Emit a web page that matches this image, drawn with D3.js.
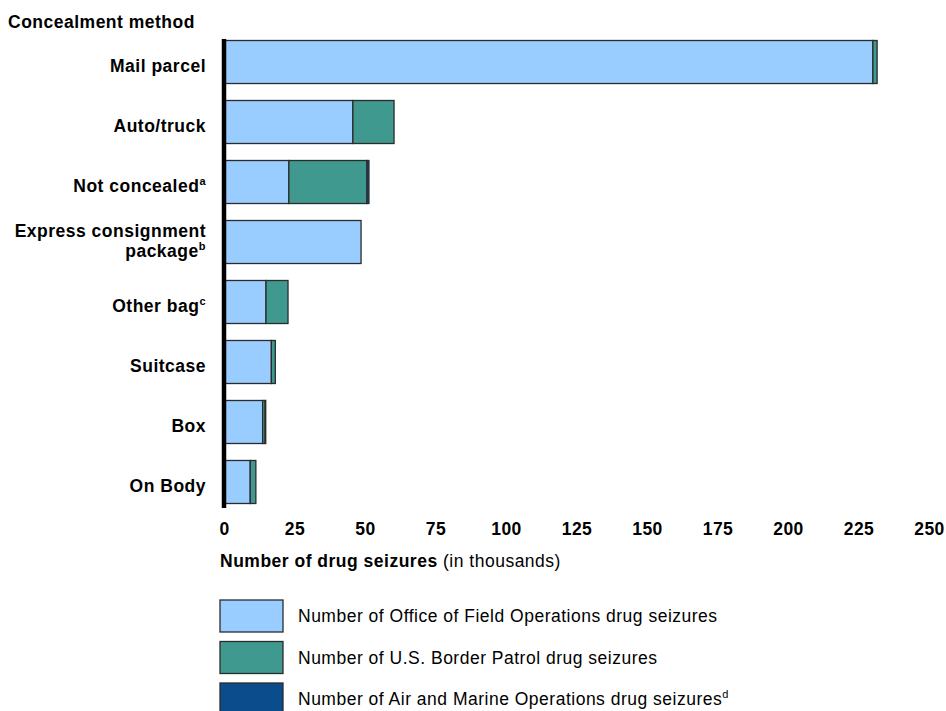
<!DOCTYPE html>
<html lang="en">
<head>
    <meta charset="UTF-8">
    <title>Drug seizures by concealment method</title>
    <script src="https://d3js.org/d3.v7.min.js"></script>
    <style>
        body {
            margin: 0;
            background: #fff;
            font-family: "Liberation Sans", Arial, sans-serif;
        }
        svg text { fill: #000; font-size: 17.5px; letter-spacing: 0.5px; }
        .cat { font-weight: bold; }
        .tick-label { font-weight: bold; }
    </style>
</head>
<body>
    <div id="chart"></div>
    <script>
        // data (thousands of seizures)
        const categories = ["Mail parcel", "Auto/truck", "Not concealed", "Express consignment package", "Other bag", "Suitcase", "Box", "On Body"];
        const ofo  = [230.1, 45.7, 23.0, 48.6, 14.9, 16.8, 13.7, 9.3];
        const usbp = [1.5, 14.6, 27.7, 0.0, 7.8, 1.4, 0.9, 2.0];
        const amo  = [0.0, 0.0, 0.7, 0.0, 0.0, 0.0, 0.2, 0.0];
        const xTicks = [0, 25, 50, 75, 100, 125, 150, 175, 200, 225, 250];
        const seriesNames = [
            "Number of Office of Field Operations drug seizures",
            "Number of U.S. Border Patrol drug seizures",
            "Number of Air and Marine Operations drug seizures"
        ];
        const seriesSup = ["", "", "d"];
        const colors = ["#99ccff", "#3f998f", "#0b4c8c"];

        const W = 946, H = 711;
        const svg = d3.select("#chart").append("svg")
            .attr("width", W)
            .attr("height", H);

        const x = d3.scaleLinear().domain([0, 250]).range([224, 929]);
        const y = d3.scaleBand().domain(categories).range([40.5, 503.5]).paddingInner(0.283).paddingOuter(0);

        const table = categories.map((c, i) => ({cat: c, ofo: ofo[i], usbp: usbp[i], amo: amo[i]}));
        const stack = d3.stack().keys(["ofo", "usbp", "amo"])(table);

        // title
        svg.append("text")
            .attr("x", 8).attr("y", 28)
            .attr("class", "cat")
            .text("Concealment method");

        // bars
        stack.forEach((layer, k) => {
            svg.append("g").selectAll("rect")
                .data(layer.filter(d => d[1] - d[0] > 0))
                .enter().append("rect")
                .attr("x", d => x(d[0]))
                .attr("y", d => y(d.data.cat))
                .attr("width", d => x(d[1]) - x(d[0]))
                .attr("height", y.bandwidth())
                .attr("fill", colors[k])
                .attr("stroke", "#2b2b2b")
                .attr("stroke-width", 1.3);
        });

        // category labels
        const supMap = {"Not concealed": "a", "Express consignment package": "b", "Other bag": "c"};
        categories.forEach(c => {
            const cy = y(c) + y.bandwidth() / 2;
            if (c === "Express consignment package") {
                svg.append("text").attr("class", "cat").attr("text-anchor", "end")
                    .attr("x", 206).attr("y", cy - 5)
                    .text("Express consignment");
                const t2 = svg.append("text").attr("class", "cat").attr("text-anchor", "end")
                    .attr("x", 206).attr("y", cy + 15);
                t2.append("tspan").text("package");
                t2.append("tspan").attr("dy", -7).style("font-size", "11px").text("b");
            } else {
                const t = svg.append("text").attr("class", "cat").attr("text-anchor", "end")
                    .attr("x", 206).attr("y", cy + 10);
                t.append("tspan").text(c);
                if (supMap[c]) {
                    t.append("tspan").attr("dy", -7).style("font-size", "11px").text(supMap[c]);
                }
            }
        });

        // y axis line
        svg.append("line")
            .attr("x1", x(0)).attr("x2", x(0))
            .attr("y1", 39).attr("y2", 508)
            .attr("stroke", "#000")
            .attr("stroke-width", 4.5);

        // x axis tick labels (no line)
        const xAxis = svg.append("g")
            .attr("transform", "translate(0,518)")
            .call(d3.axisBottom(x).tickValues(xTicks).tickSize(0).tickPadding(4));
        xAxis.select(".domain").remove();
        xAxis.selectAll("text")
            .attr("class", "tick-label")
            .attr("dy", null)
            .attr("y", 17)
            .style("font-family", "'Liberation Sans', Arial, sans-serif")
            .style("font-size", "17.5px")
            .attr("fill", "#000");

        // axis title
        const title = svg.append("text").attr("x", 220).attr("y", 567);
        title.append("tspan").style("font-weight", "bold").text("Number of drug seizures");
        title.append("tspan").text(" (in thousands)");

        // legend
        const legend = svg.append("g");
        seriesNames.forEach((name, i) => {
            const ly = 600 + i * 41.5;
            legend.append("rect")
                .attr("x", 220).attr("y", ly)
                .attr("width", 63).attr("height", 32)
                .attr("fill", colors[i])
                .attr("stroke", "#2b2b2b")
                .attr("stroke-width", 1.3);
            const t = legend.append("text")
                .attr("x", 298).attr("y", ly + 22);
            t.append("tspan").text(name);
            if (seriesSup[i]) {
                t.append("tspan").attr("dy", -7).style("font-size", "11px").text(seriesSup[i]);
            }
        });
    </script>
</body>
</html>
